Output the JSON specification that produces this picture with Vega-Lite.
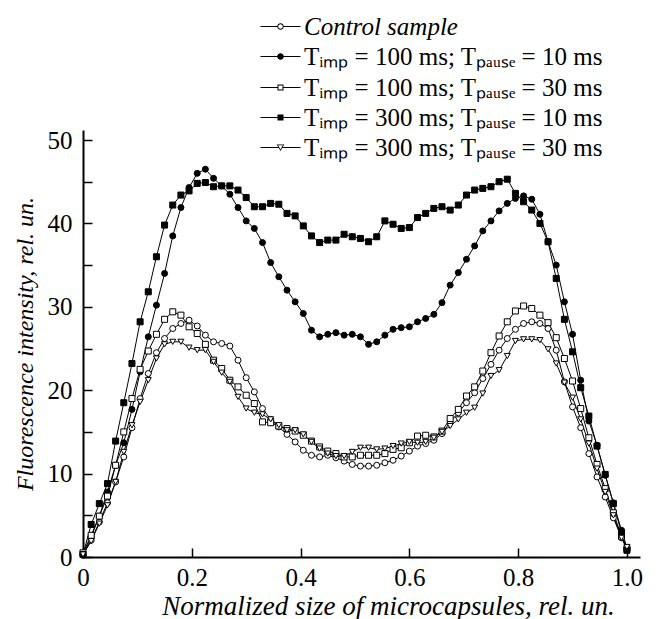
{
"$schema": "https://vega.github.io/schema/vega-lite/v6.json",
"width": 557, "height": 427,
"autosize": {"type": "none"},
"padding": {"left": 83, "top": 130, "right": 18, "bottom": 62},
"background": "white",
"config": {
  "font": "Liberation Serif",
  "view": {"stroke": null},
  "axis": {"labelFont": "Liberation Serif", "titleFont": "Liberation Serif", "labelFontSize": 25, "titleFontSize": 27, "labelColor": "black", "titleColor": "black", "domainColor": "black", "tickColor": "black", "domainWidth": 2, "tickWidth": 1.5, "grid": false, "titleFontWeight": "normal", "labelFlush": false},
  "legend": {"labelFont": "Liberation Serif", "labelFontSize": 25, "labelColor": "black", "padding": 0, "labelLimit": 600, "title": null, "orient": "none", "legendX": 185, "symbolSize": 400, "symbolStrokeWidth": 0, "symbolFillColor": "black", "symbolOpacity": 1, "labelOffset": 11}
},
"data": {"values": [
{"s":"A","x":0,"y":0.3},{"s":"A","x":0.015,"y":2.0},{"s":"A","x":0.03,"y":4.2},{"s":"A","x":0.045,"y":6.5},{"s":"A","x":0.06,"y":9.0},{"s":"A","x":0.075,"y":12.0},{"s":"A","x":0.09,"y":15.5},{"s":"A","x":0.105,"y":19.0},{"s":"A","x":0.12,"y":22.0},{"s":"A","x":0.135,"y":24.5},{"s":"A","x":0.15,"y":26.2},{"s":"A","x":0.165,"y":27.4},{"s":"A","x":0.18,"y":28.0},{"s":"A","x":0.195,"y":28.4},{"s":"A","x":0.21,"y":27.7},{"s":"A","x":0.225,"y":26.6},{"s":"A","x":0.24,"y":25.8},{"s":"A","x":0.255,"y":25.6},{"s":"A","x":0.27,"y":25.3},{"s":"A","x":0.285,"y":23.6},{"s":"A","x":0.3,"y":21.5},{"s":"A","x":0.315,"y":19.8},{"s":"A","x":0.33,"y":17.8},{"s":"A","x":0.345,"y":16.5},{"s":"A","x":0.36,"y":15.6},{"s":"A","x":0.375,"y":14.7},{"s":"A","x":0.39,"y":13.8},{"s":"A","x":0.405,"y":12.8},{"s":"A","x":0.42,"y":12.2},{"s":"A","x":0.435,"y":12.0},{"s":"A","x":0.45,"y":12.2},{"s":"A","x":0.465,"y":11.9},{"s":"A","x":0.48,"y":11.5},{"s":"A","x":0.495,"y":11.1},{"s":"A","x":0.51,"y":10.9},{"s":"A","x":0.525,"y":10.9},{"s":"A","x":0.54,"y":11.0},{"s":"A","x":0.555,"y":11.3},{"s":"A","x":0.57,"y":11.6},{"s":"A","x":0.585,"y":12.1},{"s":"A","x":0.6,"y":12.7},{"s":"A","x":0.615,"y":13.3},{"s":"A","x":0.63,"y":13.6},{"s":"A","x":0.645,"y":14.0},{"s":"A","x":0.66,"y":14.8},{"s":"A","x":0.675,"y":16.2},{"s":"A","x":0.69,"y":17.3},{"s":"A","x":0.705,"y":18.5},{"s":"A","x":0.72,"y":19.7},{"s":"A","x":0.735,"y":21.4},{"s":"A","x":0.75,"y":23.1},{"s":"A","x":0.765,"y":24.8},{"s":"A","x":0.78,"y":26.2},{"s":"A","x":0.795,"y":27.3},{"s":"A","x":0.81,"y":28.0},{"s":"A","x":0.825,"y":28.2},{"s":"A","x":0.84,"y":28.0},{"s":"A","x":0.855,"y":27.4},{"s":"A","x":0.87,"y":24.8},{"s":"A","x":0.885,"y":21.0},{"s":"A","x":0.9,"y":18.0},{"s":"A","x":0.915,"y":15.5},{"s":"A","x":0.93,"y":12.4},{"s":"A","x":0.945,"y":9.6},{"s":"A","x":0.96,"y":7.2},{"s":"A","x":0.975,"y":4.7},{"s":"A","x":0.99,"y":2.3},{"s":"A","x":1.0,"y":0.9},
{"s":"B","x":0,"y":0.2},{"s":"B","x":0.015,"y":2.4},{"s":"B","x":0.03,"y":4.9},{"s":"B","x":0.045,"y":7.8},{"s":"B","x":0.06,"y":11.0},{"s":"B","x":0.075,"y":13.7},{"s":"B","x":0.09,"y":17.7},{"s":"B","x":0.105,"y":22.2},{"s":"B","x":0.12,"y":26.4},{"s":"B","x":0.135,"y":30.2},{"s":"B","x":0.15,"y":34.0},{"s":"B","x":0.165,"y":38.5},{"s":"B","x":0.18,"y":41.9},{"s":"B","x":0.195,"y":44.3},{"s":"B","x":0.21,"y":46.0},{"s":"B","x":0.225,"y":46.5},{"s":"B","x":0.24,"y":45.4},{"s":"B","x":0.255,"y":44.5},{"s":"B","x":0.27,"y":43.5},{"s":"B","x":0.285,"y":41.9},{"s":"B","x":0.3,"y":40.3},{"s":"B","x":0.315,"y":39.4},{"s":"B","x":0.33,"y":37.7},{"s":"B","x":0.345,"y":35.3},{"s":"B","x":0.36,"y":33.6},{"s":"B","x":0.375,"y":32.0},{"s":"B","x":0.39,"y":30.6},{"s":"B","x":0.405,"y":29.2},{"s":"B","x":0.42,"y":27.2},{"s":"B","x":0.435,"y":26.4},{"s":"B","x":0.45,"y":26.7},{"s":"B","x":0.465,"y":26.9},{"s":"B","x":0.48,"y":26.6},{"s":"B","x":0.495,"y":26.7},{"s":"B","x":0.51,"y":26.4},{"s":"B","x":0.525,"y":25.5},{"s":"B","x":0.54,"y":25.8},{"s":"B","x":0.555,"y":26.6},{"s":"B","x":0.57,"y":27.3},{"s":"B","x":0.585,"y":27.5},{"s":"B","x":0.6,"y":27.6},{"s":"B","x":0.615,"y":28.2},{"s":"B","x":0.63,"y":28.6},{"s":"B","x":0.645,"y":29.1},{"s":"B","x":0.66,"y":30.5},{"s":"B","x":0.675,"y":32.6},{"s":"B","x":0.69,"y":34.1},{"s":"B","x":0.705,"y":35.7},{"s":"B","x":0.72,"y":37.3},{"s":"B","x":0.735,"y":39.1},{"s":"B","x":0.75,"y":40.3},{"s":"B","x":0.765,"y":41.5},{"s":"B","x":0.78,"y":42.4},{"s":"B","x":0.795,"y":43.0},{"s":"B","x":0.81,"y":43.3},{"s":"B","x":0.825,"y":42.9},{"s":"B","x":0.84,"y":41.1},{"s":"B","x":0.855,"y":37.8},{"s":"B","x":0.87,"y":35.0},{"s":"B","x":0.885,"y":30.6},{"s":"B","x":0.9,"y":26.7},{"s":"B","x":0.915,"y":21.2},{"s":"B","x":0.93,"y":16.3},{"s":"B","x":0.945,"y":13.4},{"s":"B","x":0.96,"y":9.8},{"s":"B","x":0.975,"y":6.5},{"s":"B","x":0.99,"y":3.2},{"s":"B","x":1.0,"y":1.1},
{"s":"C","x":0,"y":0.5},{"s":"C","x":0.015,"y":2.6},{"s":"C","x":0.03,"y":4.9},{"s":"C","x":0.045,"y":7.3},{"s":"C","x":0.06,"y":11.0},{"s":"C","x":0.075,"y":15.0},{"s":"C","x":0.09,"y":19.0},{"s":"C","x":0.105,"y":22.5},{"s":"C","x":0.12,"y":24.7},{"s":"C","x":0.135,"y":26.7},{"s":"C","x":0.15,"y":28.5},{"s":"C","x":0.165,"y":29.4},{"s":"C","x":0.18,"y":29.0},{"s":"C","x":0.195,"y":27.6},{"s":"C","x":0.21,"y":26.8},{"s":"C","x":0.225,"y":25.5},{"s":"C","x":0.24,"y":23.6},{"s":"C","x":0.255,"y":22.6},{"s":"C","x":0.27,"y":21.2},{"s":"C","x":0.285,"y":20.4},{"s":"C","x":0.3,"y":19.4},{"s":"C","x":0.315,"y":18.4},{"s":"C","x":0.33,"y":16.2},{"s":"C","x":0.345,"y":16.1},{"s":"C","x":0.36,"y":15.7},{"s":"C","x":0.375,"y":15.4},{"s":"C","x":0.39,"y":15.1},{"s":"C","x":0.405,"y":14.6},{"s":"C","x":0.42,"y":13.9},{"s":"C","x":0.435,"y":13.2},{"s":"C","x":0.45,"y":12.7},{"s":"C","x":0.465,"y":12.4},{"s":"C","x":0.48,"y":12.0},{"s":"C","x":0.495,"y":12.0},{"s":"C","x":0.51,"y":12.2},{"s":"C","x":0.525,"y":12.2},{"s":"C","x":0.54,"y":12.2},{"s":"C","x":0.555,"y":12.4},{"s":"C","x":0.57,"y":12.9},{"s":"C","x":0.585,"y":13.1},{"s":"C","x":0.6,"y":13.7},{"s":"C","x":0.615,"y":14.5},{"s":"C","x":0.63,"y":14.6},{"s":"C","x":0.645,"y":14.4},{"s":"C","x":0.66,"y":15.1},{"s":"C","x":0.675,"y":16.6},{"s":"C","x":0.69,"y":17.7},{"s":"C","x":0.705,"y":19.3},{"s":"C","x":0.72,"y":20.4},{"s":"C","x":0.735,"y":22.3},{"s":"C","x":0.75,"y":24.5},{"s":"C","x":0.765,"y":26.5},{"s":"C","x":0.78,"y":28.2},{"s":"C","x":0.795,"y":29.5},{"s":"C","x":0.81,"y":30.1},{"s":"C","x":0.825,"y":29.8},{"s":"C","x":0.84,"y":29.0},{"s":"C","x":0.855,"y":28.1},{"s":"C","x":0.87,"y":26.3},{"s":"C","x":0.885,"y":23.8},{"s":"C","x":0.9,"y":21.1},{"s":"C","x":0.915,"y":17.8},{"s":"C","x":0.93,"y":14.3},{"s":"C","x":0.945,"y":11.1},{"s":"C","x":0.96,"y":8.2},{"s":"C","x":0.975,"y":5.3},{"s":"C","x":0.99,"y":2.5},{"s":"C","x":1.0,"y":1.0},
{"s":"D","x":0,"y":0.3},{"s":"D","x":0.015,"y":3.9},{"s":"D","x":0.03,"y":6.4},{"s":"D","x":0.045,"y":8.8},{"s":"D","x":0.06,"y":13.9},{"s":"D","x":0.075,"y":18.5},{"s":"D","x":0.09,"y":23.2},{"s":"D","x":0.105,"y":28.2},{"s":"D","x":0.12,"y":31.8},{"s":"D","x":0.135,"y":36.0},{"s":"D","x":0.15,"y":39.8},{"s":"D","x":0.165,"y":42.2},{"s":"D","x":0.18,"y":43.4},{"s":"D","x":0.195,"y":43.9},{"s":"D","x":0.21,"y":44.8},{"s":"D","x":0.225,"y":44.9},{"s":"D","x":0.24,"y":44.4},{"s":"D","x":0.255,"y":44.5},{"s":"D","x":0.27,"y":44.5},{"s":"D","x":0.285,"y":44.0},{"s":"D","x":0.3,"y":43.1},{"s":"D","x":0.315,"y":42.0},{"s":"D","x":0.33,"y":42.0},{"s":"D","x":0.345,"y":42.4},{"s":"D","x":0.36,"y":42.3},{"s":"D","x":0.375,"y":41.2},{"s":"D","x":0.39,"y":40.9},{"s":"D","x":0.405,"y":39.7},{"s":"D","x":0.42,"y":38.5},{"s":"D","x":0.435,"y":37.7},{"s":"D","x":0.45,"y":38.0},{"s":"D","x":0.465,"y":38.0},{"s":"D","x":0.48,"y":38.7},{"s":"D","x":0.495,"y":38.4},{"s":"D","x":0.51,"y":38.2},{"s":"D","x":0.525,"y":37.8},{"s":"D","x":0.54,"y":38.4},{"s":"D","x":0.555,"y":40.3},{"s":"D","x":0.57,"y":39.9},{"s":"D","x":0.585,"y":39.4},{"s":"D","x":0.6,"y":39.5},{"s":"D","x":0.615,"y":40.7},{"s":"D","x":0.63,"y":41.2},{"s":"D","x":0.645,"y":41.8},{"s":"D","x":0.66,"y":42.0},{"s":"D","x":0.675,"y":41.6},{"s":"D","x":0.69,"y":42.2},{"s":"D","x":0.705,"y":43.4},{"s":"D","x":0.72,"y":44.0},{"s":"D","x":0.735,"y":44.2},{"s":"D","x":0.75,"y":44.4},{"s":"D","x":0.765,"y":45.0},{"s":"D","x":0.78,"y":45.3},{"s":"D","x":0.795,"y":43.6},{"s":"D","x":0.81,"y":42.6},{"s":"D","x":0.825,"y":41.6},{"s":"D","x":0.84,"y":40.0},{"s":"D","x":0.855,"y":37.8},{"s":"D","x":0.87,"y":33.4},{"s":"D","x":0.885,"y":28.5},{"s":"D","x":0.9,"y":24.6},{"s":"D","x":0.915,"y":20.3},{"s":"D","x":0.93,"y":16.9},{"s":"D","x":0.945,"y":13.3},{"s":"D","x":0.96,"y":9.9},{"s":"D","x":0.975,"y":6.4},{"s":"D","x":0.99,"y":2.9},{"s":"D","x":1.0,"y":0.8},
{"s":"E","x":0,"y":0.3},{"s":"E","x":0.015,"y":1.9},{"s":"E","x":0.03,"y":4.0},{"s":"E","x":0.045,"y":6.2},{"s":"E","x":0.06,"y":9.0},{"s":"E","x":0.075,"y":12.6},{"s":"E","x":0.09,"y":15.8},{"s":"E","x":0.105,"y":18.6},{"s":"E","x":0.12,"y":21.2},{"s":"E","x":0.135,"y":23.8},{"s":"E","x":0.15,"y":25.5},{"s":"E","x":0.165,"y":25.8},{"s":"E","x":0.18,"y":25.8},{"s":"E","x":0.195,"y":25.1},{"s":"E","x":0.21,"y":24.8},{"s":"E","x":0.225,"y":24.8},{"s":"E","x":0.24,"y":23.4},{"s":"E","x":0.255,"y":22.1},{"s":"E","x":0.27,"y":21.0},{"s":"E","x":0.285,"y":19.2},{"s":"E","x":0.3,"y":17.8},{"s":"E","x":0.315,"y":17.3},{"s":"E","x":0.33,"y":17.1},{"s":"E","x":0.345,"y":16.5},{"s":"E","x":0.36,"y":15.8},{"s":"E","x":0.375,"y":15.2},{"s":"E","x":0.39,"y":15.2},{"s":"E","x":0.405,"y":14.7},{"s":"E","x":0.42,"y":13.8},{"s":"E","x":0.435,"y":13.0},{"s":"E","x":0.45,"y":12.4},{"s":"E","x":0.465,"y":12.1},{"s":"E","x":0.48,"y":12.1},{"s":"E","x":0.495,"y":12.6},{"s":"E","x":0.51,"y":13.1},{"s":"E","x":0.525,"y":13.1},{"s":"E","x":0.54,"y":12.9},{"s":"E","x":0.555,"y":13.0},{"s":"E","x":0.57,"y":13.3},{"s":"E","x":0.585,"y":13.6},{"s":"E","x":0.6,"y":13.8},{"s":"E","x":0.615,"y":13.7},{"s":"E","x":0.63,"y":13.8},{"s":"E","x":0.645,"y":14.3},{"s":"E","x":0.66,"y":15.0},{"s":"E","x":0.675,"y":15.7},{"s":"E","x":0.69,"y":16.5},{"s":"E","x":0.705,"y":17.3},{"s":"E","x":0.72,"y":17.9},{"s":"E","x":0.735,"y":19.6},{"s":"E","x":0.75,"y":21.7},{"s":"E","x":0.765,"y":22.4},{"s":"E","x":0.78,"y":24.1},{"s":"E","x":0.795,"y":25.9},{"s":"E","x":0.81,"y":26.1},{"s":"E","x":0.825,"y":26.1},{"s":"E","x":0.84,"y":26.0},{"s":"E","x":0.855,"y":24.9},{"s":"E","x":0.87,"y":23.2},{"s":"E","x":0.885,"y":20.9},{"s":"E","x":0.9,"y":19.1},{"s":"E","x":0.915,"y":16.5},{"s":"E","x":0.93,"y":13.6},{"s":"E","x":0.945,"y":10.6},{"s":"E","x":0.96,"y":7.8},{"s":"E","x":0.975,"y":5.0},{"s":"E","x":0.99,"y":2.3},{"s":"E","x":1.0,"y":1.2}
]},
"encoding": {
  "x": {"field": "x", "type": "quantitative", "scale": {"domain": [0, 1.024], "nice": false},
        "axis": {"values": [0, 0.2, 0.4, 0.6, 0.8, 1.0], "labelExpr": "datum.value == 0 ? '0' : format(datum.value, '.1f')", "tickSize": -9, "labelPadding": 17, "title": "Normalized size of microcapsules, rel. un.", "titleFontStyle": "italic", "titlePadding": 3, "titleX": 305}},
  "y": {"field": "y", "type": "quantitative", "scale": {"domain": [0, 51.2], "nice": false},
        "axis": {"values": [0, 5, 10, 15, 20, 25, 30, 35, 40, 45, 50], "labelExpr": "datum.value % 10 == 0 ? datum.label : ''", "tickSize": -9, "labelPadding": 20, "title": "Fluorescence intensity, rel. un.", "titleFontStyle": "italic", "titleFontSize": 24, "titlePadding": 10,
                 "encode": {"ticks": {"x2": {"value": {"expr": "datum.value % 10 == 0 ? 9 : 6"}}}}}}
},
"layer": [
  {
    "mark": {"type": "line", "stroke": "black", "strokeWidth": 1},
    "encoding": {"detail": {"field": "s"}}
  },
  {
    "mark": {"type": "point", "filled": false, "stroke": "black", "strokeWidth": 1, "opacity": 1, "size": 36},
    "encoding": {
      "shape": {"field": "s", "type": "nominal", "legend": null,
        "scale": {"domain": ["A", "B", "C", "D", "E"], "range": ["circle", "circle", "square", "square", "triangle-down"]}},
      "fill": {"field": "s", "type": "nominal", "legend": null,
        "scale": {"domain": ["A", "B", "C", "D", "E"], "range": ["white", "black", "white", "black", "white"]}}
    }
  },
  {
    "transform": [{"filter": "datum.x < 0"}],
    "mark": {"type": "point", "filled": true, "fill": "black", "strokeWidth": 0, "opacity": 1},
    "encoding": {
      "shape": {"field": "s", "type": "nominal",
        "scale": {"domain": ["A"], "range": ["M-2,-0.05H-0.33V0.05H-2ZM0.33,-0.05H2V0.05H0.33ZM-0.33,0A0.33,0.33,0,1,1,0.33,0A0.33,0.33,0,1,1,-0.33,0ZM-0.23,0A0.23,0.23,0,1,0,0.23,0A0.23,0.23,0,1,0,-0.23,0Z"]},
        "legend": {"legendY": -116, "labelFontStyle": "italic", "labelExpr": "'Control sample'"}}
    }
  },
  {
    "transform": [{"filter": "datum.x < 0"}],
    "mark": {"type": "point", "filled": true, "fill": "black", "strokeWidth": 0, "opacity": 1},
    "encoding": {
      "shape": {"field": "s", "type": "nominal",
        "scale": {"domain": ["B"], "range": ["M-2,-0.05H-0.3V0.05H-2ZM0.3,-0.05H2V0.05H0.3ZM-0.33,0A0.33,0.33,0,1,1,0.33,0A0.33,0.33,0,1,1,-0.33,0Z"]},
        "legend": {"legendY": -86, "labelExpr": "'Tᵢₘₚ = 100 ms; Tₚₐᵤₛₑ = 10 ms'"}}
    }
  },
  {
    "transform": [{"filter": "datum.x < 0"}],
    "mark": {"type": "point", "filled": true, "fill": "black", "strokeWidth": 0, "opacity": 1},
    "encoding": {
      "shape": {"field": "s", "type": "nominal",
        "scale": {"domain": ["C"], "range": ["M-2,-0.05H-0.3V0.05H-2ZM0.3,-0.05H2V0.05H0.3ZM-0.3,-0.3H0.3V0.3H-0.3ZM-0.2,-0.2V0.2H0.2V-0.2Z"]},
        "legend": {"legendY": -55, "labelExpr": "'Tᵢₘₚ = 100 ms; Tₚₐᵤₛₑ = 30 ms'"}}
    }
  },
  {
    "transform": [{"filter": "datum.x < 0"}],
    "mark": {"type": "point", "filled": true, "fill": "black", "strokeWidth": 0, "opacity": 1},
    "encoding": {
      "shape": {"field": "s", "type": "nominal",
        "scale": {"domain": ["D"], "range": ["M-2,-0.05H-0.3V0.05H-2ZM0.3,-0.05H2V0.05H0.3ZM-0.3,-0.3H0.3V0.3H-0.3Z"]},
        "legend": {"legendY": -25, "labelExpr": "'Tᵢₘₚ = 300 ms; Tₚₐᵤₛₑ = 10 ms'"}}
    }
  },
  {
    "transform": [{"filter": "datum.x < 0"}],
    "mark": {"type": "point", "filled": true, "fill": "black", "strokeWidth": 0, "opacity": 1},
    "encoding": {
      "shape": {"field": "s", "type": "nominal",
        "scale": {"domain": ["E"], "range": ["M-2,-0.05H-0.2V0.05H-2ZM0.2,-0.05H2V0.05H0.2ZM-0.38,-0.3H0.38L0,0.36ZM-0.24,-0.22L0,0.2L0.24,-0.22Z"]},
        "legend": {"legendY": 5, "labelExpr": "'Tᵢₘₚ = 300 ms; Tₚₐᵤₛₑ = 30 ms'"}}
    }
  }
],
"resolve": {"scale": {"shape": "independent", "fill": "independent"}}
}
